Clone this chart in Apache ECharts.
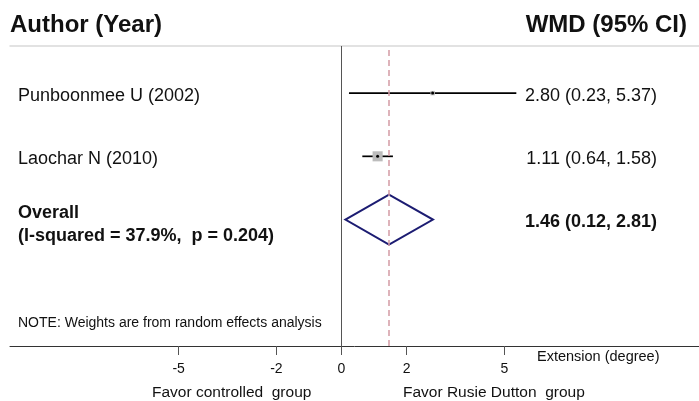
<!DOCTYPE html>
<html>
<head>
<meta charset="utf-8">
<script src="https://cdn.jsdelivr.net/npm/echarts@6/dist/echarts.min.js"></script>
<style>
html,body{margin:0;padding:0;background:#fff;}
#chart{width:699px;height:401px;}
</style>
</head>
<body>
<div id="chart"></div>
<script>
// ---- data ----
const studies = ['Punboonmee U (2002)', 'Laochar N (2010)'];
const wmd = [2.80, 1.11];
const lower = [0.23, 0.64];
const upper = [5.37, 1.58];
const weights = [16.0, 84.0];
const ciLabels = ['2.80 (0.23, 5.37)', '1.11 (0.64, 1.58)'];
const overallEst = [1.46];
const overallLower = [0.12];
const overallUpper = [2.81];
const overallTitle = ['Overall', '(I-squared = 37.9%,  p = 0.204)'];
const overallLabel = ['1.46 (0.12, 2.81)'];
const xTicks = [-5, -2, 0, 2, 5];
const xAxisName = 'Extension (degree)';
const favorLeft = 'Favor controlled  group';
const favorRight = 'Favor Rusie Dutton  group';
const noteText = 'NOTE: Weights are from random effects analysis';
const headers = ['Author (Year)', 'WMD (95% CI)'];

// ---- build ----
const FONT = "'Liberation Sans', Arial, sans-serif";
const nRows = studies.length;
const studyData = studies.map((s, i) => [nRows + 2 - i, wmd[i], lower[i], upper[i], weights[i]]);
const overallData = [[1 + 1, overallEst[0], overallLower[0], overallUpper[0]]];

function txt(text, x, y, size, bold, align) {
  return {
    type: 'text',
    style: {
      text: text, x: x, y: y,
      font: (bold ? 'bold ' : '') + size + 'px ' + FONT,
      fill: '#111',
      align: align || 'left', textAlign: align || 'left',
      verticalAlign: 'middle', textVerticalAlign: 'middle'
    }
  };
}

const chart = echarts.init(document.getElementById('chart'), null, {renderer: 'canvas'});
chart.setOption({
  animation: false,
  backgroundColor: '#fff',
  grid: {left: 10, right: 0, top: 46, bottom: 55, containLabel: false},
  xAxis: [{
    type: 'value', min: -10.18, max: 10.98, position: 'bottom',
    axisLine: {show: true, lineStyle: {color: '#333', width: 1}},
    axisTick: {show: true, customValues: xTicks, length: 9, lineStyle: {color: '#555'}},
    axisLabel: {show: true, customValues: xTicks, fontSize: 14, color: '#111', fontFamily: FONT, margin: 16},
    splitLine: {show: false}
  }, {
    type: 'value', min: -10.18, max: 10.98, position: 'top',
    axisLine: {show: true, lineStyle: {color: '#d9d9d9', width: 1.5}},
    axisTick: {show: false}, axisLabel: {show: false}, splitLine: {show: false}
  }],
  yAxis: {type: 'value', min: 0, max: 4.745, show: false},
  series: [{
    type: 'custom',
    data: studyData,
    encode: {x: [1, 2, 3], y: 0},
    z: 3,
    renderItem: function (params, api) {
      const i = params.dataIndex;
      const y = api.value(0);
      const pLo = api.coord([api.value(2), y]);
      const pHi = api.coord([api.value(3), y]);
      const pE = api.coord([api.value(1), y]);
      const side = 1.1 * Math.sqrt(api.value(4));
      return {
        type: 'group',
        children: [
          {type: 'line', shape: {x1: pLo[0], y1: pLo[1], x2: pHi[0], y2: pHi[1]}, style: {stroke: '#000', lineWidth: 1.7}},
          {type: 'rect', shape: {x: pE[0] - side / 2, y: pE[1] - side / 2, width: side, height: side}, style: {fill: '#bcbcbc'}},
          {type: 'circle', shape: {cx: pE[0], cy: pE[1], r: 1.5}, style: {fill: '#000'}},
          txt(studies[i], 18, pE[1] + 3, 18, false, 'left'),
          txt(ciLabels[i], 657, pE[1] + 3, 18, false, 'right')
        ]
      };
    }
  }, {
    type: 'custom',
    data: overallData,
    encode: {x: [1, 2, 3], y: 0},
    z: 3,
    renderItem: function (params, api) {
      const y = api.value(0);
      const pLo = api.coord([api.value(2), y]);
      const pHi = api.coord([api.value(3), y]);
      const pE = api.coord([api.value(1), y]);
      const h = 25;
      return {
        type: 'group',
        children: [
          {type: 'polygon', shape: {points: [pLo, [pE[0], pE[1] - h], pHi, [pE[0], pE[1] + h]]},
           style: {fill: 'none', stroke: '#1c1c72', lineWidth: 2}},
          txt(overallTitle[0], 18, pE[1] - 7, 18, true, 'left'),
          txt(overallTitle[1], 18, pE[1] + 16, 18, true, 'left'),
          txt(overallLabel[0], 657, pE[1] + 2, 18, true, 'right')
        ]
      };
    },
    markLine: {
      silent: true, symbol: 'none', label: {show: false},
      data: [
        {xAxis: 0, lineStyle: {color: '#555', type: 'solid', width: 1}},
        {xAxis: overallEst[0], lineStyle: {color: '#d49aa4', type: [6, 4], width: 1.5}}
      ]
    }
  }],
  graphic: [
    txt(headers[0], 10, 25, 24, true, 'left'),
    txt(headers[1], 687, 25, 24, true, 'right'),
    txt(noteText, 18, 323, 14, false, 'left'),
    txt(xAxisName, 537, 357, 14.5, false, 'left'),
    txt(favorLeft, 152, 393, 15.5, false, 'left'),
    txt(favorRight, 403, 393, 15.5, false, 'left')
  ]
});
</script>
</body>
</html>
